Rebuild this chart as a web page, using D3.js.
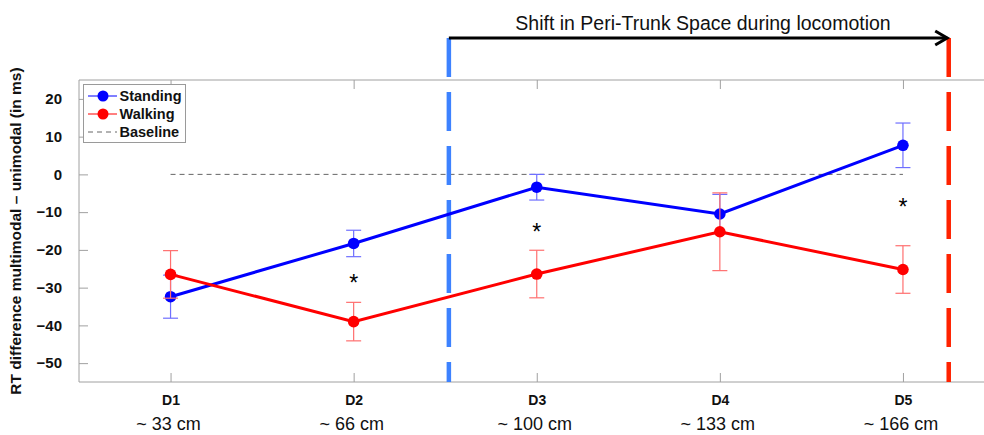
<!DOCTYPE html>
<html><head><meta charset="utf-8">
<script src="https://cdn.jsdelivr.net/npm/d3@7/dist/d3.min.js"></script>
<style>
body{margin:0;background:#fff;}
svg{display:block;font-family:"Liberation Sans",Arial,Helvetica,sans-serif;}
</style></head>
<body>
<svg id="chart" width="984" height="435"></svg>
<script>
const categories = ["D1","D2","D3","D4","D5"];
const distances = ["~ 33 cm","~ 66 cm","~ 100 cm","~ 133 cm","~ 166 cm"];
const standing = [-32.4, -18.3, -3.4, -10.5, 7.7];
const standingErr = [5.7, 3.5, 3.4, 5.2, 5.9];
const walking = [-26.5, -39.0, -26.4, -15.2, -25.2];
const walkingErr = [6.3, 5.1, 6.3, 10.3, 6.3];
const starIdx = [2, 3, 5];
const starVals = [-27.8, -14.3, -7.5];
const yTicks = [20, 10, 0, -10, -20, -30, -40, -50];
const shiftFrom = 2.52, shiftTo = 5.25;
const title = "Shift in Peri-Trunk Space during locomotion";
const yLabel = "RT difference multimodal \u2013 unimodal (in ms)";
const seriesNames = ["Standing","Walking","Baseline"];

const svg = d3.select("#chart");
const L = 79, T = 80, B = 382;
const x = d3.scaleLinear().domain([0.5, 5.5]).range([L, 994.5]);
const y = d3.scaleLinear().domain([-55, 25]).range([B, T]);
const arrowY = 38;
const axisCol = "#a0a0a0";

// axes lines
svg.append("line").attr("x1",L).attr("x2",984).attr("y1",T).attr("y2",T).attr("stroke",axisCol);
svg.append("line").attr("x1",L).attr("x2",984).attr("y1",B).attr("y2",B).attr("stroke",axisCol);
svg.append("line").attr("x1",L).attr("x2",L).attr("y1",T).attr("y2",B).attr("stroke",axisCol);

// y ticks
const yAxis = d3.axisLeft(y).tickValues(yTicks).tickSize(-9).tickPadding(17)
  .tickFormat(d => d < 0 ? "\u2212" + Math.abs(d) : String(d));
const gy = svg.append("g").attr("transform",`translate(${L},0)`).call(yAxis);
gy.select(".domain").remove();
gy.selectAll(".tick line").attr("stroke",axisCol);
gy.selectAll(".tick text").attr("font-size",15).attr("font-weight","bold").attr("fill","#111")
  .attr("font-family","'Liberation Sans',Arial,sans-serif");

// x ticks bottom & top
const idx = d3.range(1,6);
const xb = d3.axisBottom(x).tickValues(idx).tickSize(-9).tickPadding(13).tickFormat(d=>categories[d-1]);
const gxb = svg.append("g").attr("transform",`translate(0,${B})`).call(xb);
gxb.select(".domain").remove();
gxb.selectAll(".tick line").attr("stroke",axisCol);
gxb.selectAll(".tick text").attr("font-size",14).attr("font-weight","bold").attr("fill","#111")
  .attr("font-family","'Liberation Sans',Arial,sans-serif");
const xt = d3.axisTop(x).tickValues(idx).tickSize(-9).tickFormat("");
const gxt = svg.append("g").attr("transform",`translate(0,${T})`).call(xt);
gxt.select(".domain").remove();
gxt.selectAll(".tick line").attr("stroke",axisCol);

// distance labels
svg.append("g").selectAll("text").data(idx).join("text")
  .attr("x", d => x(d) - 2).attr("y", 430).attr("text-anchor","middle")
  .attr("font-size",18).attr("fill","#111").text(d => distances[d-1]);

// y label
svg.append("text").attr("transform",`translate(21,${(T+B)/2}) rotate(-90)`)
  .attr("text-anchor","middle").attr("font-size",15.5).attr("font-weight","bold").attr("fill","#111")
  .text(yLabel);

// baseline
svg.append("line").attr("x1",x(1)).attr("x2",x(5)).attr("y1",y(0)).attr("y2",y(0))
  .attr("stroke","#666").attr("stroke-width",1).attr("stroke-dasharray","5,4");

// vertical dashed shift lines
svg.append("line").attr("x1",x(shiftFrom)).attr("x2",x(shiftFrom)).attr("y1",arrowY).attr("y2",B)
  .attr("stroke","#3d82ff").attr("stroke-width",4.5).attr("stroke-dasharray","39,15");
svg.append("line").attr("x1",x(shiftTo)).attr("x2",x(shiftTo)).attr("y1",arrowY).attr("y2",B)
  .attr("stroke","#ff2200").attr("stroke-width",4.5).attr("stroke-dasharray","39,15");

// arrow
const ax1 = x(shiftFrom), ax2 = x(shiftTo) - 1.5;
svg.append("line").attr("x1",ax1).attr("x2",ax2).attr("y1",arrowY).attr("y2",arrowY)
  .attr("stroke","#000").attr("stroke-width",3);
svg.append("path").attr("d",`M${ax2-12},${arrowY-7}L${ax2},${arrowY}L${ax2-12},${arrowY+7}`)
  .attr("fill","none").attr("stroke","#000").attr("stroke-width",3);
svg.append("text").attr("x",703).attr("y",30).attr("text-anchor","middle")
  .attr("font-size",19.5).attr("fill","#111").text(title);

// series
function drawSeries(vals, errs, col, errCol){
  const g = svg.append("g");
  const pts = vals.map((v,i)=>({i:i+1,v,e:errs[i]}));
  const eg = g.append("g").attr("stroke",errCol).attr("stroke-width",1.2);
  pts.forEach(p=>{
    eg.append("line").attr("x1",x(p.i)).attr("x2",x(p.i)).attr("y1",y(p.v+p.e)).attr("y2",y(p.v-p.e));
    eg.append("line").attr("x1",x(p.i)-7.5).attr("x2",x(p.i)+7.5).attr("y1",y(p.v+p.e)).attr("y2",y(p.v+p.e));
    eg.append("line").attr("x1",x(p.i)-7.5).attr("x2",x(p.i)+7.5).attr("y1",y(p.v-p.e)).attr("y2",y(p.v-p.e));
  });
  g.append("path").datum(pts).attr("fill","none").attr("stroke",col).attr("stroke-width",3)
    .attr("d", d3.line().x(p=>x(p.i)).y(p=>y(p.v)));
  g.selectAll("circle").data(pts).join("circle").attr("cx",p=>x(p.i)).attr("cy",p=>y(p.v))
    .attr("r",5.8).attr("fill",col);
}
drawSeries(standing, standingErr, "#0000ff", "#6f6fff");
drawSeries(walking, walkingErr, "#ff0000", "#ff6f6f");

// stars
svg.append("g").selectAll("text").data(starIdx).join("text")
  .attr("x", d => x(d)).attr("y", (d,i) => y(starVals[i]) + 12).attr("text-anchor","middle")
  .attr("font-size",23).attr("fill","#000").text("*");

// legend
const lg = svg.append("g");
lg.append("rect").attr("x",83.5).attr("y",84.5).attr("width",102).attr("height",58)
  .attr("fill","#fff").attr("stroke","#9a9a9a");
const legCols = ["#0000ff","#ff0000","#666"];
seriesNames.forEach((n,i)=>{
  const yy = 96 + i*18;
  const ln = lg.append("line").attr("x1",88).attr("x2",117).attr("y1",yy).attr("y2",yy)
    .attr("stroke",legCols[i]).attr("stroke-width",1);
  if(i<2) lg.append("circle").attr("cx",103).attr("cy",yy).attr("r",5.5).attr("fill",legCols[i]);
  else ln.attr("stroke-dasharray","5,4");
  lg.append("text").attr("x",119.5).attr("y",yy+5).attr("font-size",14.5).attr("font-weight","bold")
    .attr("fill","#111").text(n);
});
</script>
</body></html>
